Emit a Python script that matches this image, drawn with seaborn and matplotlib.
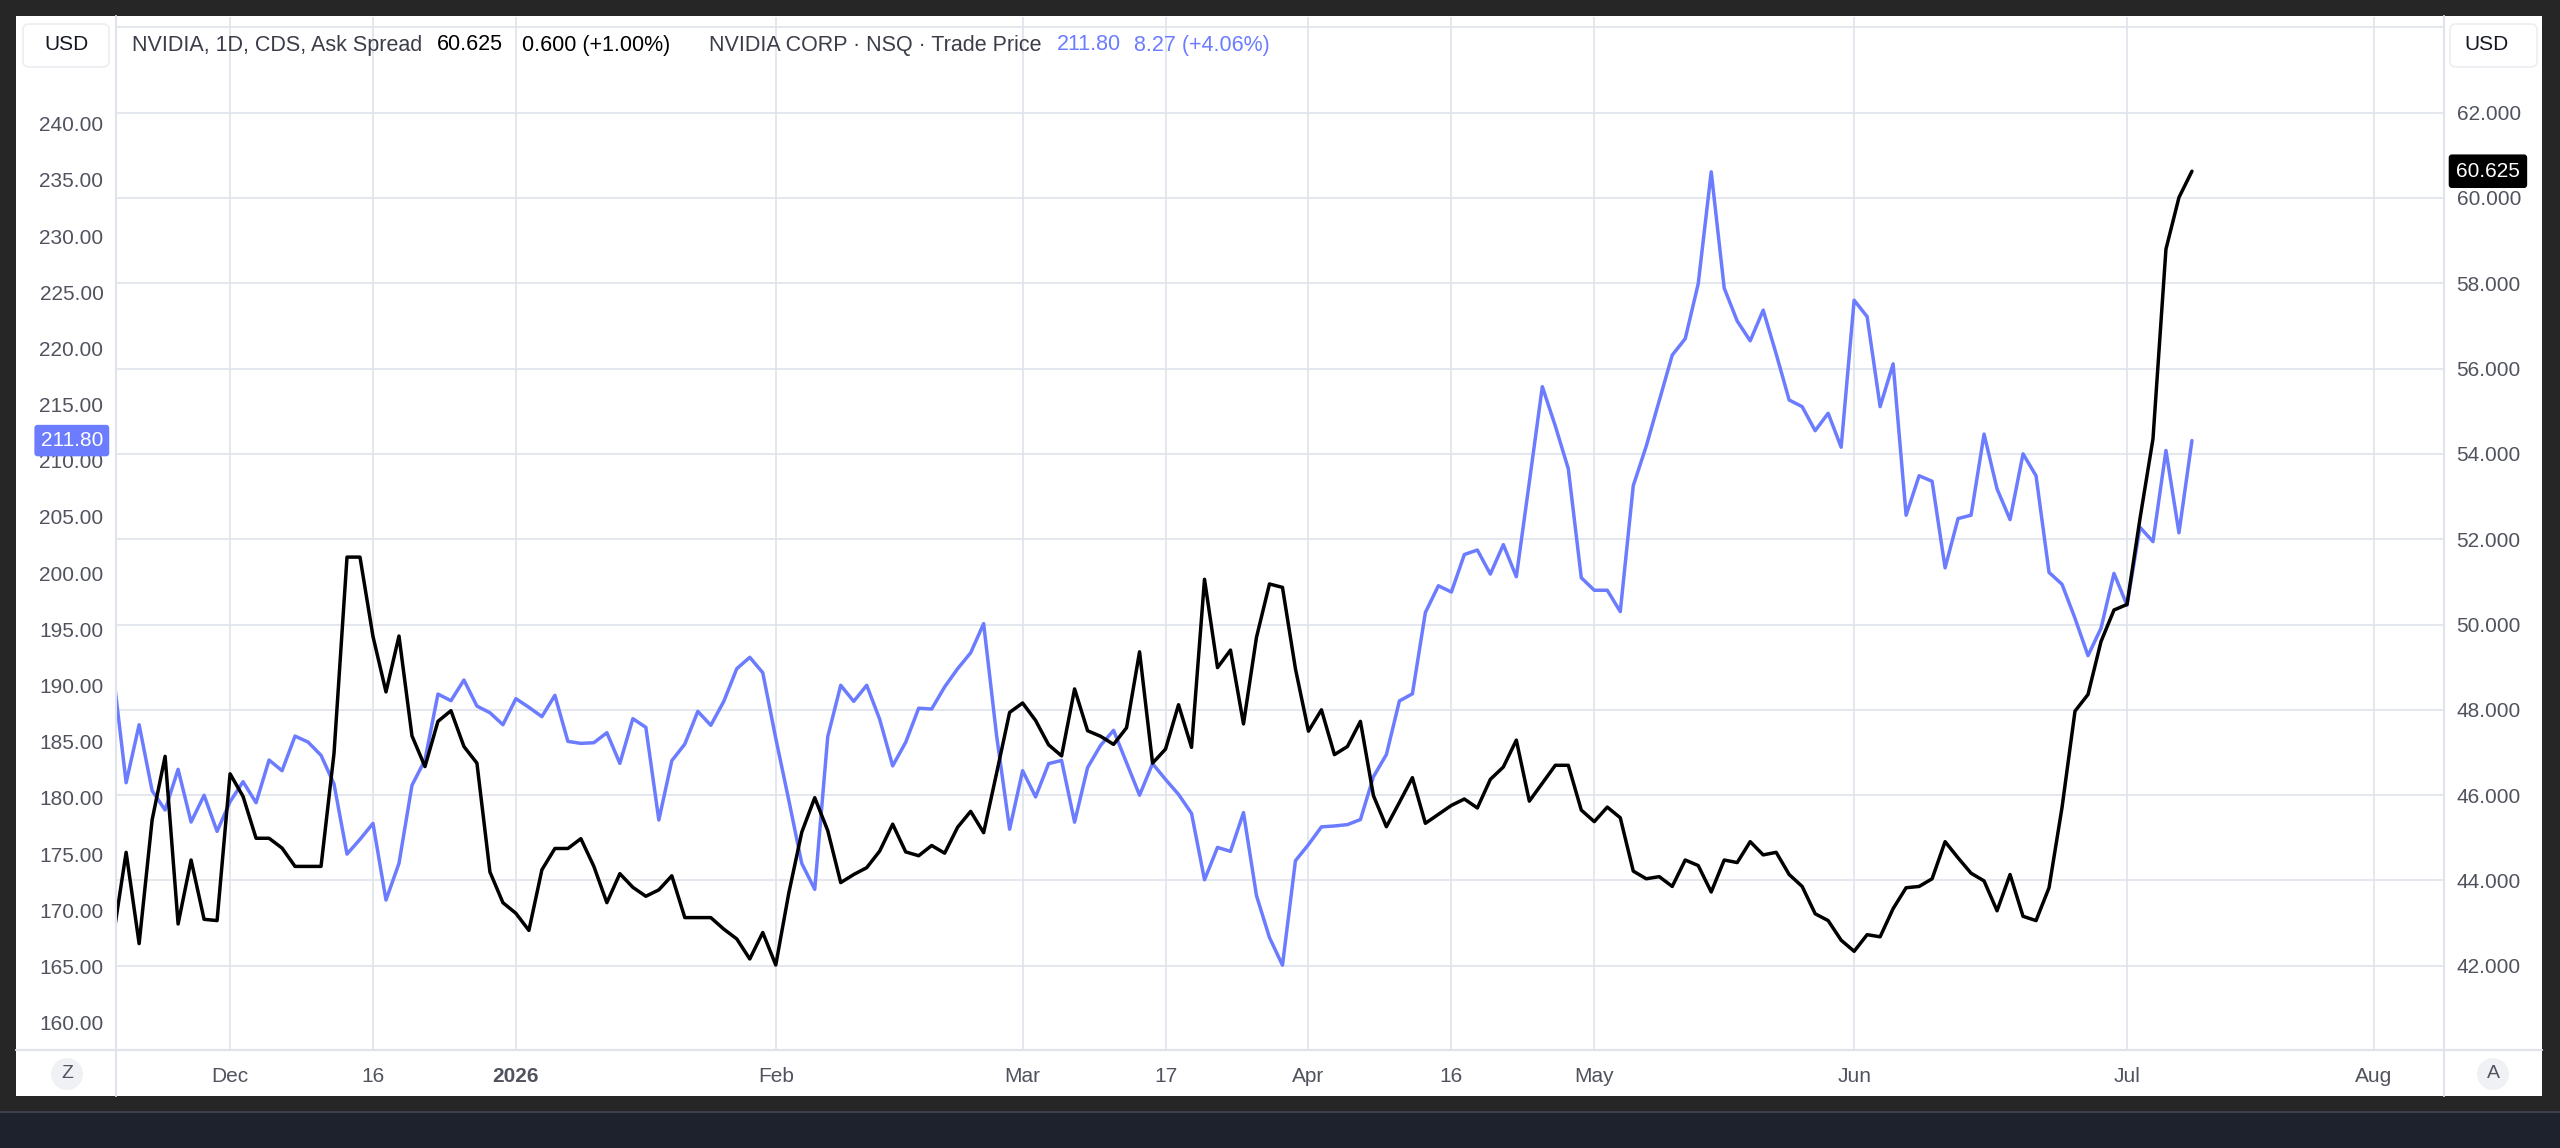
import numpy as np
import pandas as pd
import seaborn as sns
import matplotlib.pyplot as plt
import matplotlib.transforms as mtransforms
from matplotlib.patches import Rectangle, FancyBboxPatch, Circle
from matplotlib.lines import Line2D

W, H = 2560, 1148

# daily bars, bar 0 = 1 Dec 2025, first bar drawn is -9
first_bar = -9

# NVIDIA CDS ask spread (right scale)
spread = [
    42.66, 44.66, 42.52, 45.42, 46.91, 42.98, 44.48, 43.09, 43.06,
    46.50, 45.97, 44.99, 44.99, 44.76, 44.33, 44.33, 44.33, 46.98, 51.58,
    51.58, 49.72, 48.42, 49.73, 47.39, 46.67, 47.73, 47.98, 47.14, 46.75,
    44.20, 43.48, 43.23, 42.83, 44.25, 44.75, 44.75, 44.98, 44.33, 43.48,
    44.16, 43.84, 43.63, 43.78, 44.11, 43.13, 43.13, 43.13, 42.86, 42.63,
    42.16, 42.78, 42.02, 43.70, 45.13, 45.94, 45.17, 43.95, 44.14, 44.30,
    44.69, 45.32, 44.67, 44.58, 44.82, 44.64, 45.25, 45.62, 45.12, 46.52,
    47.94, 48.16, 47.75, 47.18, 46.92, 48.49, 47.51, 47.38, 47.19, 47.58,
    49.36, 46.75, 47.08, 48.12, 47.12, 51.06, 48.99, 49.40, 47.67, 49.70,
    50.95, 50.87, 48.96, 47.50, 48.00, 46.95, 47.14, 47.73, 45.99, 45.26,
    45.83, 46.41, 45.34, 45.55, 45.76, 45.91, 45.70, 46.37, 46.66, 47.29,
    45.86, 46.28, 46.70, 46.70, 45.65, 45.38, 45.72, 45.47, 44.22, 44.04,
    44.09, 43.86, 44.48, 44.35, 43.73, 44.48, 44.42, 44.91, 44.60, 44.66,
    44.14, 43.86, 43.22, 43.06, 42.60, 42.34, 42.73, 42.68, 43.34, 43.83,
    43.86, 44.04, 44.91, 44.53, 44.17, 43.99, 43.29, 44.14, 43.16, 43.06,
    43.83, 45.71, 47.97, 48.36, 49.60, 50.34, 50.47, 52.48, 54.35, 58.80,
    60.01, 60.625,
]

# NVIDIA trade price (left scale)
price = [
    191.20, 181.35, 186.51, 180.64, 178.92, 182.54, 177.85, 180.23, 177.02,
    179.66, 181.44, 179.57, 183.37, 182.42, 185.50, 184.97, 183.79, 181.24, 175.00,
    176.31, 177.73, 170.91, 174.17, 181.12, 183.37, 189.24, 188.65, 190.49, 188.17,
    187.58, 186.51, 188.83, 188.06, 187.23, 189.13, 185.03, 184.85, 184.91, 185.80,
    183.07, 187.05, 186.28, 178.03, 183.31, 184.79, 187.70, 186.46, 188.59, 191.50,
    192.51, 191.14, 185.30, 179.81, 174.17, 171.86, 185.44, 190.02, 188.59, 190.02,
    186.99, 182.85, 184.95, 187.98, 187.91, 189.88, 191.50, 192.91, 195.51, 185.51,
    177.21, 182.42, 180.09, 183.05, 183.33, 177.84, 182.70, 184.67, 186.01, 183.12,
    180.24, 183.05, 181.64, 180.31, 178.62, 172.71, 175.59, 175.24, 178.69, 171.30,
    167.57, 165.11, 174.41, 175.84, 177.42, 177.50, 177.62, 178.07, 181.88, 183.86,
    188.63, 189.26, 196.50, 198.88, 198.32, 201.66, 202.06, 199.92, 202.54, 199.68,
    208.10, 216.60, 213.10, 209.29, 199.59, 198.48, 198.48, 196.58, 207.79, 211.31,
    215.36, 219.41, 220.87, 225.76, 235.72, 225.37, 222.44, 220.68, 223.41, 219.51,
    215.41, 214.82, 212.68, 214.23, 211.21, 224.29, 222.83, 214.82, 218.63, 205.16,
    208.67, 208.18, 200.47, 204.86, 205.16, 212.38, 207.50, 204.77, 210.62, 208.67,
    200.07, 199.01, 195.98, 192.66, 195.10, 199.98, 197.15, 204.08, 202.81, 210.92,
    203.59, 211.80,
]

tick_bars = [0, 11, 22, 42, 61, 72, 83, 94, 105, 125, 146, 165]
tick_labels = ["Dec", "16", "2026", "Feb", "Mar", "17", "Apr", "16", "May", "Jun", "Jul", "Aug"]
price_ticks = [160, 165, 170, 175, 180, 185, 190, 195, 200, 205, 210, 215, 220, 225, 230, 235, 240]
spread_ticks = [42, 44, 46, 48, 50, 52, 54, 56, 58, 60, 62]
spread_grid = [42, 44, 46, 48, 50, 52, 54, 56, 58, 60, 62, 64]

spread_change = "0.600 (+1.00%)"
price_change = "8.27 (+4.06%)"

BLUE = "#6b7cff"
GRID = "#e0e3eb"
TXT = "#50535e"
DARK = "#131722"

sns.set_theme(style="white")
plt.rcParams["font.family"] = ["Liberation Sans", "DejaVu Sans"]

bars = np.arange(len(spread)) + first_bar
df = pd.DataFrame({"bar": bars, "spread": spread, "price": price})

fig = plt.figure(figsize=(W / 100, H / 100), dpi=100, facecolor="#262626")
PX = mtransforms.IdentityTransform()


def py(y):
    return H - y


# white panel and bottom band
fig.add_artist(Rectangle((16, py(1096)), 2526, 1080, transform=PX,
                         facecolor="white", edgecolor="none", zorder=-5))
fig.add_artist(Rectangle((0, 0), W, py(1112), transform=PX,
                         facecolor="#1e222d", edgecolor="none", zorder=-5))
fig.add_artist(Line2D([0, W], [py(1112), py(1112)], transform=PX,
                      color="#3d4048", lw=1.5, zorder=-4))

ax_l = fig.add_axes([116 / W, 1 - 1049 / H, (2444 - 116) / W, (1049 - 17) / H])
ax_l.set_facecolor("white")
ax_r = ax_l.twinx()

sns.lineplot(data=df, x="bar", y="price", ax=ax_l, color=BLUE,
             linewidth=2.5, estimator=None, zorder=3)
sns.lineplot(data=df, x="bar", y="spread", ax=ax_r, color="black",
             linewidth=2.5, estimator=None, zorder=3)

ax_l.set_xlim(-8.78, 170.4)
ax_l.set_ylim(157.65, 249.5)
ax_r.set_ylim(40.05, 64.24)

for a in (ax_l, ax_r):
    a.set_xlabel("")
    a.set_ylabel("")
    for s in a.spines.values():
        s.set_visible(False)

ax_l.set_xticks(tick_bars)
ax_l.set_xticklabels(tick_labels)
for lab in ax_l.get_xticklabels():
    if lab.get_text() == "2026":
        lab.set_fontweight("bold")
        lab.set_color(DARK)
ax_l.set_yticks(price_ticks)
ax_l.set_yticklabels([f"{v:.2f}" for v in price_ticks])
ax_r.set_yticks(spread_ticks)
ax_r.set_yticklabels([f"{v:.3f}" for v in spread_ticks])

ax_l.tick_params(axis="x", length=0, pad=13, labelsize=15, labelcolor=TXT)
ax_l.tick_params(axis="y", length=0, pad=9, labelsize=15, labelcolor=TXT)
ax_r.tick_params(axis="y", length=0, pad=9, labelsize=15, labelcolor=TXT)

# grid: vertical from time scale, horizontal from the right (main) scale
ax_l.grid(axis="x", color=GRID, lw=1.2)
ax_l.set_axisbelow(True)
hl = mtransforms.blended_transform_factory(ax_l.transAxes, ax_r.transData)
for t in spread_grid:
    ax_l.add_line(Line2D([0, 1], [t, t], transform=hl, color=GRID, lw=1.2, zorder=0.5))

# pane separators
for x in (116, 2444):
    fig.add_artist(Line2D([x, x], [py(1096), py(16)], transform=PX, color=GRID, lw=1.5, zorder=2))
fig.add_artist(Line2D([16, 2542], [py(1049.5), py(1049.5)], transform=PX, color=GRID, lw=1.6, zorder=2))

# last value labels
lt = mtransforms.blended_transform_factory(ax_r.transAxes, ax_r.transData)
ax_r.text(1 + 12 / 2328, spread[-1], f"{spread[-1]:.3f}", transform=lt, ha="left", va="center",
          fontsize=15, color="white", clip_on=False, zorder=10,
          bbox=dict(boxstyle="round,pad=0.35,rounding_size=0.15", fc="black", ec="none"))
lt2 = mtransforms.blended_transform_factory(ax_l.transAxes, ax_l.transData)
ax_l.text(-13 / 2328, price[-1], f"{price[-1]:.2f}", transform=lt2, ha="right", va="center",
          fontsize=15, color="white", clip_on=False, zorder=10,
          bbox=dict(boxstyle="round,pad=0.3,rounding_size=0.15", fc=BLUE, ec="none"))

# USD boxes
for x0, w in ((23, 86), (2450, 87)):
    fig.add_artist(FancyBboxPatch((x0, py(67)), w, 43, transform=PX,
                                  boxstyle="round,pad=0,rounding_size=6",
                                  facecolor="white", edgecolor="#eceef2", lw=1.2, zorder=6))
fig.text(66 / W, 1 - 45 / H, "USD", ha="center", va="center", fontsize=15, color=DARK, zorder=7)
fig.text(2486 / W, 1 - 45 / H, "USD", ha="center", va="center", fontsize=15, color=DARK, zorder=7)

# header
hy = 1 - 45 / H
fig.text(132 / W, hy, "NVIDIA, 1D, CDS, Ask Spread", va="center", fontsize=15.5, color="#3b3e48", zorder=7)
fig.text(437 / W, hy, f"{spread[-1]:.3f}", va="center", fontsize=15.5, color="black", zorder=7)
fig.text(522 / W, hy, spread_change, va="center", fontsize=15.5, color="black", zorder=7)
fig.text(709 / W, hy, "NVIDIA CORP · NSQ · Trade Price", va="center", fontsize=15.5, color="#3b3e48", zorder=7)
fig.text(1057 / W, hy, f"{price[-1]:.2f}", va="center", fontsize=15.5, color=BLUE, zorder=7)
fig.text(1134 / W, hy, price_change, va="center", fontsize=15.5, color=BLUE, zorder=7)

# scale mode buttons
for cx, ch in ((67, "Z"), (2493, "A")):
    fig.add_artist(Circle((cx, py(1074)), 16, transform=PX, facecolor="#f0f1f4", edgecolor="none", zorder=6))
    fig.text(cx / W, 1 - 1074 / H, ch, ha="center", va="center", fontsize=14, color=TXT, zorder=7)

fig.savefig("out.png", dpi=100, facecolor=fig.get_facecolor())
